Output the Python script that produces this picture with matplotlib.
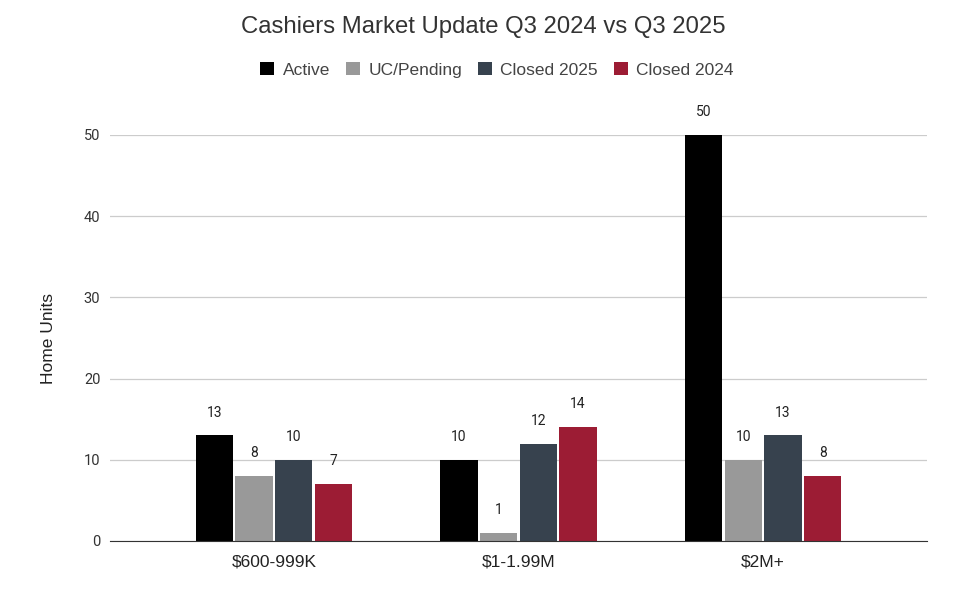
import numpy as np
import matplotlib.pyplot as plt
from matplotlib.patches import Patch

plt.rcParams['font.family'] = ['Roboto', 'DejaVu Sans']
text_font = ['Liberation Sans', 'DejaVu Sans']

categories = ['$600-999K', '$1-1.99M', '$2M+']
series_names = ['Active', 'UC/Pending', 'Closed 2025', 'Closed 2024']
active = [13, 10, 50]
pending = [8, 1, 10]
closed_2025 = [10, 12, 13]
closed_2024 = [7, 14, 8]
colors = ['#000000', '#999999', '#37424e', '#9c1c34']

values = [active, pending, closed_2025, closed_2024]

fig = plt.figure(figsize=(9.58, 6.02), dpi=100)
ax = fig.add_axes([110 / 958, 1 - 541 / 602, 817 / 958, 406 / 602])

x = np.arange(len(categories))
step = 0.1624
width = 0.153
for i, (vals, col) in enumerate(zip(values, colors)):
    pos = x + (i - 1.5) * step
    bars = ax.bar(pos, vals, width, color=col, zorder=3)
    for b, v in zip(bars, vals):
        ax.annotate(str(v), (b.get_x() + b.get_width() / 2, v),
                    xytext=(0, 16.5), textcoords='offset points',
                    ha='center', va='center', fontsize=10, color='#222222',
                    annotation_clip=False)

ax.set_xlim(-0.67, 2.67)
ax.set_ylim(0, 50)
ax.set_yticks([0, 10, 20, 30, 40, 50])
ax.set_xticks(x)
ax.set_xticklabels(categories, fontsize=12.5, color='#222222', family=text_font)
ax.tick_params(axis='x', length=0, pad=10)
ax.tick_params(axis='y', length=0, pad=7, labelsize=10.5, labelcolor='#333333')
ax.grid(axis='y', color='#cccccc', linewidth=0.9, zorder=0)
for s in ['top', 'right', 'left']:
    ax.spines[s].set_visible(False)
ax.spines['bottom'].set_color('#333333')
ax.spines['bottom'].set_zorder(4)

ax.set_ylabel('Home Units', fontsize=12.5, color='#222222', labelpad=20,
              family=text_font)

fig.text(0.505, 1 - 27 / 602, 'Cashiers Market Update Q3 2024 vs Q3 2025',
         ha='center', va='center', fontsize=17.2, color='#333333',
         family=text_font)

handles = [Patch(facecolor=c, edgecolor='none') for c in colors]
fig.legend(handles, series_names, loc='center', ncol=4,
           bbox_to_anchor=(497 / 958, 1 - 70 / 602), frameon=False,
           prop={'family': text_font, 'size': 12.5}, labelcolor='#444444',
           handlelength=0.8, handleheight=0.8, handletextpad=0.5,
           columnspacing=0.9)

fig.savefig('out.png', dpi=100)
